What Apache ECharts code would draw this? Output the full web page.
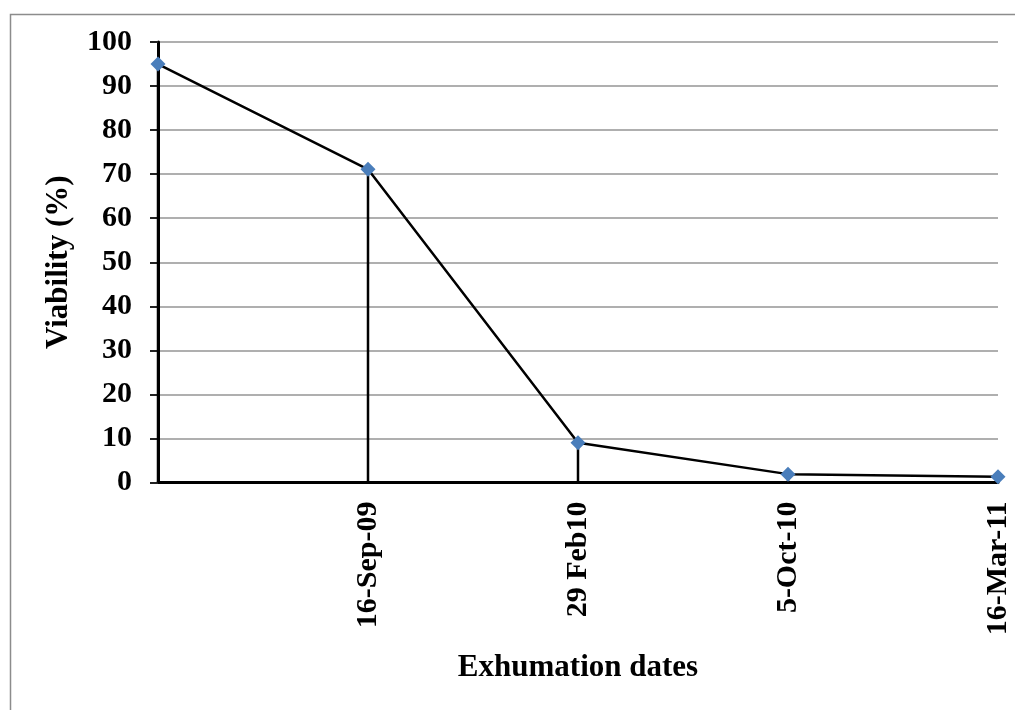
<!DOCTYPE html>
<html>
<head>
<meta charset="utf-8">
<script src="https://cdn.jsdelivr.net/npm/echarts@6/dist/echarts.min.js"></script>
<style>html,body{margin:0;padding:0;background:#fff;}#c{width:1015px;height:710px;}</style>
</head>
<body>
<div id="c"></div>
<script>
const categories = ['', '16-Sep-09', '29 Feb10', '5-Oct-10', '16-Mar-11'];
const viability = [95, 71.1, 9, 1.9, 1.3];
const yTicks = [0, 10, 20, 30, 40, 50, 60, 70, 80, 90, 100];
const xTitle = 'Exhumation dates';
const yTitle = 'Viability (%)';

const font = 'Liberation Serif';
const chart = echarts.init(document.getElementById('c'));
chart.setOption({
  animation: false,
  backgroundColor: '#fff',
  graphic: [{
    type: 'rect', left: 8, top: 12, shape: { width: 1200, height: 900 },
    style: { fill: 'none', stroke: '#8c8c8c', lineWidth: 1.5 }, z: -1
  }],
  grid: { left: 158, right: 17, top: 42, bottom: 227.5 },
  xAxis: {
    type: 'category', data: categories, boundaryGap: false,
    axisLine: { lineStyle: { color: '#000', width: 3 } },
    axisTick: { show: false },
    axisLabel: { rotate: 90, margin: 19, fontFamily: font, fontWeight: 'bold', fontSize: 30, color: '#000' },
    name: xTitle, nameLocation: 'middle', nameGap: 170,
    nameTextStyle: { fontFamily: font, fontWeight: 'bold', fontSize: 31, color: '#000' }
  },
  yAxis: {
    type: 'value', min: yTicks[0], max: yTicks[yTicks.length - 1], interval: yTicks[1] - yTicks[0],
    axisLine: { show: true, lineStyle: { color: '#000', width: 3 } },
    axisTick: { show: true, length: 8, lineStyle: { color: '#222', width: 2 } },
    splitLine: { lineStyle: { color: '#959595', width: 1.5 } },
    axisLabel: { margin: 26, fontFamily: font, fontWeight: 'bold', fontSize: 30, color: '#000' },
    name: yTitle, nameLocation: 'middle', nameGap: 84, nameRotate: 90,
    nameTextStyle: { fontFamily: font, fontWeight: 'bold', fontSize: 31, color: '#000' }
  },
  series: [
    {
      type: 'bar', data: viability, barWidth: 2.5, z: 1, clip: false,
      itemStyle: { color: '#000' }, silent: true
    },
    {
      type: 'line', data: viability, z: 3,
      symbol: 'diamond', symbolSize: 15, showSymbol: true,
      lineStyle: { color: '#000', width: 2.5 },
      itemStyle: { color: '#4A7EBB' }
    }
  ]
});
</script>
</body>
</html>
